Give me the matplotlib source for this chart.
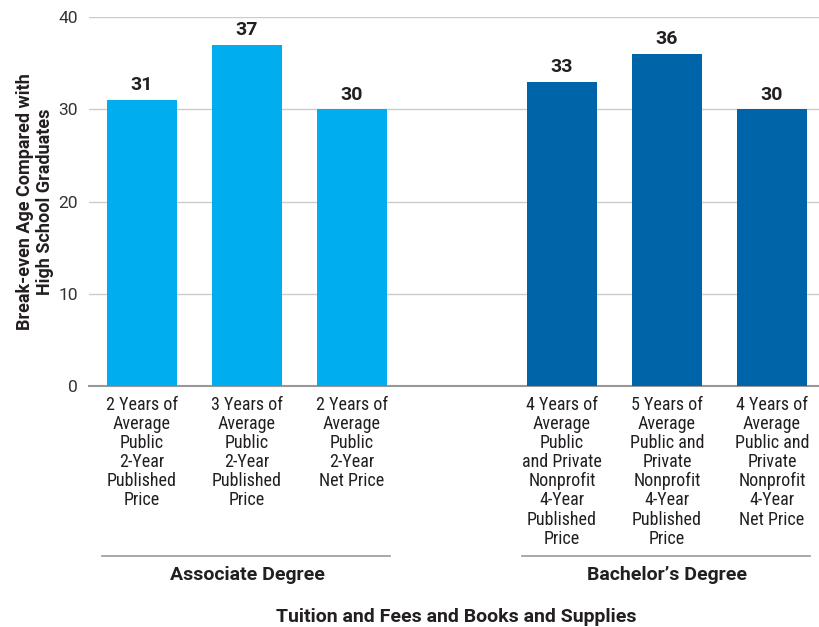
import numpy as np
import matplotlib.pyplot as plt

# data
categories = [
    "2 Years of\nAverage\nPublic\n2-Year\nPublished\nPrice",
    "3 Years of\nAverage\nPublic\n2-Year\nPublished\nPrice",
    "2 Years of\nAverage\nPublic\n2-Year\nNet Price",
    "4 Years of\nAverage\nPublic\nand Private\nNonprofit\n4-Year\nPublished\nPrice",
    "5 Years of\nAverage\nPublic and\nPrivate\nNonprofit\n4-Year\nPublished\nPrice",
    "4 Years of\nAverage\nPublic and\nPrivate\nNonprofit\n4-Year\nNet Price",
]
values = [31, 37, 30, 33, 36, 30]
groups = ["Associate Degree", "Bachelor\u2019s Degree"]
group_of_bar = [0, 0, 0, 1, 1, 1]
colors = ["#00AEEF", "#0064A8"]

positions = [0, 1, 2, 4, 5, 6]

narrow = ["Roboto Condensed", "Liberation Sans Narrow", "Roboto", "DejaVu Sans"]
boldf = ["Roboto", "DejaVu Sans"]

fig = plt.figure(figsize=(8.2, 6.27), dpi=100)
ax = fig.add_axes([89 / 820, 1 - 386 / 627, (820 - 89) / 820, (386 - 17) / 627])

bars = ax.bar(positions, values, width=0.667,
              color=[colors[g] for g in group_of_bar], zorder=3)

for b, v in zip(bars, values):
    ax.annotate(str(v), (b.get_x() + b.get_width() / 2, v), xytext=(0, 4),
                textcoords="offset points", ha="center", va="bottom",
                fontsize=14, fontweight="bold", family=boldf, color="#231f20")

ax.set_xlim(-0.505, 6.457)
ax.set_ylim(0, 40)
ax.set_yticks([0, 10, 20, 30, 40])
ax.yaxis.grid(True, color="#cccccc", linewidth=1, zorder=0)
ax.tick_params(axis="y", length=0, pad=8, labelsize=12.5, labelcolor="#333333")
ax.tick_params(axis="x", length=0, pad=7)
for lab in ax.get_yticklabels():
    lab.set_family(["Roboto", "DejaVu Sans"])
for s in ["top", "right", "left"]:
    ax.spines[s].set_visible(False)
ax.spines["bottom"].set_color("#999999")
ax.spines["bottom"].set_linewidth(1.5)

ax.set_xticks(positions)
ax.set_xticklabels(categories, fontsize=13, family=narrow, color="#231f20",
                   linespacing=1.08, va="top")

ax.set_ylabel("Break-even Age Compared with\nHigh School Graduates", fontsize=13,
              fontweight="bold", family=boldf, color="#231f20", labelpad=3,
              linespacing=1.15)

# group brackets below tick labels
trans = ax.get_xaxis_transform()
group_pos = [[p for p, g in zip(positions, group_of_bar) if g == i] for i in range(len(groups))]
for name, ps in zip(groups, group_pos):
    x0, x1 = min(ps) - 0.38, max(ps) + 0.36
    line_y = -(556 - 386) / 369
    ax.plot([x0, x1], [line_y, line_y], transform=trans, color="#999999",
            linewidth=1.2, clip_on=False)
    ax.text((min(ps) + max(ps)) / 2, -(575 - 386) / 369, name, transform=trans,
            ha="center", va="center", fontsize=14, fontweight="bold",
            family=boldf, color="#231f20")

fig.text(456 / 820, 1 - 617 / 627, "Tuition and Fees and Books and Supplies",
         ha="center", va="center", fontsize=14, fontweight="bold",
         family=boldf, color="#231f20")

fig.savefig("out.png", dpi=100)
